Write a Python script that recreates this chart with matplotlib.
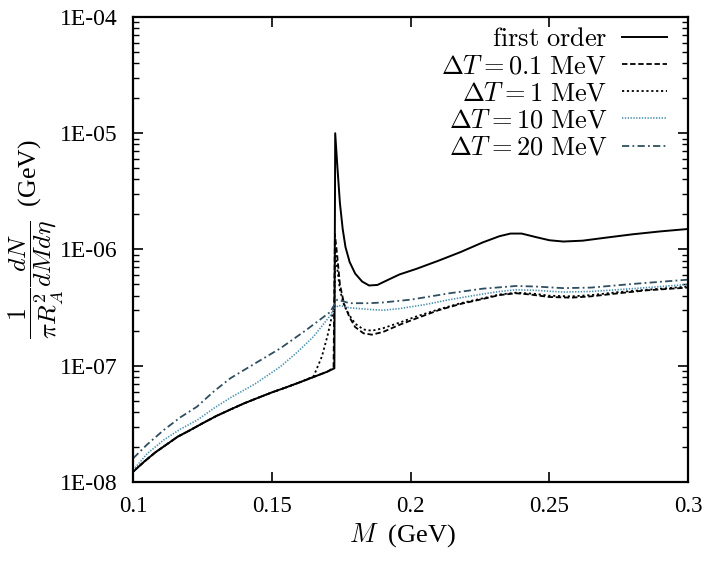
import numpy as np
import matplotlib
matplotlib.use("Agg")
import matplotlib.pyplot as plt
from matplotlib.ticker import FixedLocator, LogLocator, FuncFormatter, NullFormatter

plt.rcParams["font.family"] = "Liberation Serif"
plt.rcParams["mathtext.fontset"] = "cm"

# first order transition
m_first = [0.100, 0.104, 0.108, 0.112, 0.116, 0.120, 0.125, 0.130, 0.135, 0.140,
           0.145, 0.150, 0.155, 0.160, 0.165, 0.170, 0.1725, 0.1728, 0.1735, 0.1745,
           0.1755, 0.1765, 0.178, 0.180, 0.1825, 0.185, 0.188, 0.192, 0.196, 0.202,
           0.210, 0.218, 0.226, 0.232, 0.236, 0.240, 0.245, 0.250, 0.255, 0.262,
           0.270, 0.280, 0.290, 0.300]
y_first = [1.23e-8, 1.5e-8, 1.8e-8, 2.1e-8, 2.45e-8, 2.75e-8, 3.2e-8, 3.7e-8, 4.2e-8, 4.75e-8,
           5.3e-8, 5.9e-8, 6.5e-8, 7.2e-8, 8.0e-8, 8.9e-8, 9.5e-8, 1.0e-5, 5.5e-6, 2.5e-6,
           1.5e-6, 1.05e-6, 7.8e-7, 6.2e-7, 5.3e-7, 4.9e-7, 4.95e-7, 5.5e-7, 6.1e-7, 6.8e-7,
           8.0e-7, 9.5e-7, 1.15e-6, 1.3e-6, 1.37e-6, 1.37e-6, 1.28e-6, 1.2e-6, 1.17e-6, 1.19e-6,
           1.26e-6, 1.35e-6, 1.43e-6, 1.5e-6]

# dT = 0.1 MeV
m_01 = [0.100, 0.104, 0.108, 0.112, 0.116, 0.120, 0.125, 0.130, 0.135, 0.140,
        0.145, 0.150, 0.155, 0.160, 0.165, 0.170, 0.1722, 0.1727, 0.1735, 0.1745,
        0.176, 0.178, 0.180, 0.183, 0.186, 0.190, 0.196, 0.202, 0.210, 0.218,
        0.226, 0.232, 0.238, 0.243, 0.250, 0.258, 0.265, 0.275, 0.285, 0.300]
y_01 = [1.23e-8, 1.5e-8, 1.8e-8, 2.1e-8, 2.45e-8, 2.75e-8, 3.2e-8, 3.7e-8, 4.2e-8, 4.75e-8,
        5.3e-8, 5.9e-8, 6.5e-8, 7.2e-8, 8.0e-8, 8.9e-8, 9.6e-8, 1.35e-6, 9e-7, 5e-7,
        3.4e-7, 2.6e-7, 2.15e-7, 1.9e-7, 1.85e-7, 1.95e-7, 2.25e-7, 2.55e-7, 3.0e-7, 3.4e-7,
        3.75e-7, 4.05e-7, 4.2e-7, 4.1e-7, 3.9e-7, 3.85e-7, 3.95e-7, 4.2e-7, 4.45e-7, 4.7e-7]

# dT = 1 MeV
m_1 = [0.100, 0.104, 0.108, 0.112, 0.116, 0.120, 0.125, 0.130, 0.135, 0.140,
       0.145, 0.150, 0.155, 0.160, 0.165, 0.168, 0.170, 0.1715, 0.1725, 0.1728,
       0.1735, 0.1745, 0.176, 0.178, 0.180, 0.183, 0.186, 0.190, 0.196, 0.202,
       0.210, 0.218, 0.226, 0.232, 0.238, 0.245, 0.250, 0.258, 0.265, 0.275,
       0.285, 0.300]
y_1 = [1.23e-8, 1.5e-8, 1.8e-8, 2.1e-8, 2.45e-8, 2.75e-8, 3.2e-8, 3.7e-8, 4.2e-8, 4.75e-8,
       5.3e-8, 5.9e-8, 6.5e-8, 7.2e-8, 8.1e-8, 1.2e-7, 1.8e-7, 2.6e-7, 3.2e-7, 1.0e-6,
       7e-7, 4.5e-7, 3.3e-7, 2.7e-7, 2.3e-7, 2.05e-7, 2.0e-7, 2.1e-7, 2.35e-7, 2.65e-7,
       3.05e-7, 3.45e-7, 3.8e-7, 4.1e-7, 4.25e-7, 4.15e-7, 4.0e-7, 3.95e-7, 4.05e-7, 4.3e-7,
       4.5e-7, 4.8e-7]

# dT = 10 MeV
m_10 = [0.100, 0.105, 0.111, 0.117, 0.123, 0.129, 0.135, 0.144, 0.153, 0.159,
        0.165, 0.171, 0.1725, 0.174, 0.178, 0.185, 0.190, 0.196, 0.205, 0.214,
        0.225, 0.232, 0.238, 0.245, 0.255, 0.265, 0.280, 0.300]
y_10 = [1.27e-8, 1.75e-8, 2.3e-8, 2.85e-8, 3.4e-8, 4.3e-8, 5.3e-8, 7.0e-8, 9.8e-8, 1.3e-7,
        1.78e-7, 2.7e-7, 3.1e-7, 3.3e-7, 3.15e-7, 3.05e-7, 3.0e-7, 3.1e-7, 3.35e-7, 3.7e-7,
        4.1e-7, 4.35e-7, 4.5e-7, 4.45e-7, 4.3e-7, 4.35e-7, 4.6e-7, 5.0e-7]

# dT = 20 MeV
m_20 = [0.100, 0.105, 0.111, 0.117, 0.123, 0.129, 0.135, 0.144, 0.153, 0.162,
        0.171, 0.1735, 0.178, 0.185, 0.190, 0.200, 0.214, 0.226, 0.238, 0.245,
        0.255, 0.265, 0.280, 0.300]
y_20 = [1.6e-8, 2.1e-8, 2.8e-8, 3.6e-8, 4.45e-8, 6.0e-8, 7.8e-8, 1.05e-7, 1.41e-7, 2.0e-7,
        2.9e-7, 3.7e-7, 3.45e-7, 3.45e-7, 3.5e-7, 3.7e-7, 4.2e-7, 4.6e-7, 4.85e-7, 4.8e-7,
        4.65e-7, 4.7e-7, 5.05e-7, 5.5e-7]

x_ticks = [0.1, 0.15, 0.2, 0.25, 0.3]
x_tick_labels = ["0.1", "0.15", "0.2", "0.25", "0.3"]
y_ticks = [1e-8, 1e-7, 1e-6, 1e-5, 1e-4]

fig = plt.figure(figsize=(7.05, 5.64), dpi=100)
ax = fig.add_axes([0.189, 0.1454, 0.787, 0.8246])

ax.plot(m_first, y_first, color="black", lw=1.4, ls="-", label=r"$\mathrm{first\ order}$")
ax.plot(m_01, y_01, color="black", lw=1.3, ls=(0, (3.0, 1.5)),
        label=r"$\Delta T = 0.1\ \mathrm{MeV}$")
ax.plot(m_1, y_1, color="black", lw=1.3, ls=(0, (1.2, 1.5)),
        label=r"$\Delta T = 1\ \mathrm{MeV}$")
ax.plot(m_10, y_10, color="#4a90b0", lw=1.2, ls=(0, (0.8, 0.9)),
        label=r"$\Delta T = 10\ \mathrm{MeV}$")
ax.plot(m_20, y_20, color="#2f4f5f", lw=1.3, ls=(0, (4.0, 1.8, 1.0, 1.8)),
        label=r"$\Delta T = 20\ \mathrm{MeV}$")

ax.set_yscale("log")
ax.set_xlim(0.1, 0.3)
ax.set_ylim(1e-8, 1e-4)

ax.xaxis.set_major_locator(FixedLocator(x_ticks))
ax.set_xticklabels(x_tick_labels)
ax.yaxis.set_major_locator(FixedLocator(y_ticks))
ax.yaxis.set_major_formatter(FuncFormatter(lambda v, p: "1E-%02d" % round(-np.log10(v))))
ax.yaxis.set_minor_locator(LogLocator(base=10, subs=np.arange(2, 10), numticks=20))
ax.yaxis.set_minor_formatter(NullFormatter())

ax.tick_params(which="both", direction="in", top=True, right=True)
ax.tick_params(which="major", length=7, width=1.2)
ax.tick_params(which="minor", length=4, width=1.0)
ax.tick_params(axis="x", pad=10, labelsize=16.5)
ax.tick_params(axis="y", pad=11, labelsize=17)
for s in ax.spines.values():
    s.set_linewidth(1.6)

ax.set_xlabel(r"$M$  (GeV)", fontsize=19)
ax.xaxis.set_label_coords(0.485, -0.085)
ax.set_ylabel(r"$\dfrac{1}{\pi R_A^2}\dfrac{dN}{dMd\eta}$  (GeV)", fontsize=18.5)
ax.yaxis.set_label_coords(-0.122, 0.523)

# markerfirst=False right-aligns the entries and puts the line samples on the right
ax.legend(loc="upper right", bbox_to_anchor=(0.962, 0.977), markerfirst=False,
          frameon=False, fontsize=19, handlelength=1.7, handletextpad=0.57,
          labelspacing=0.14, borderaxespad=0, borderpad=0)

fig.savefig("out.png", dpi=100)
